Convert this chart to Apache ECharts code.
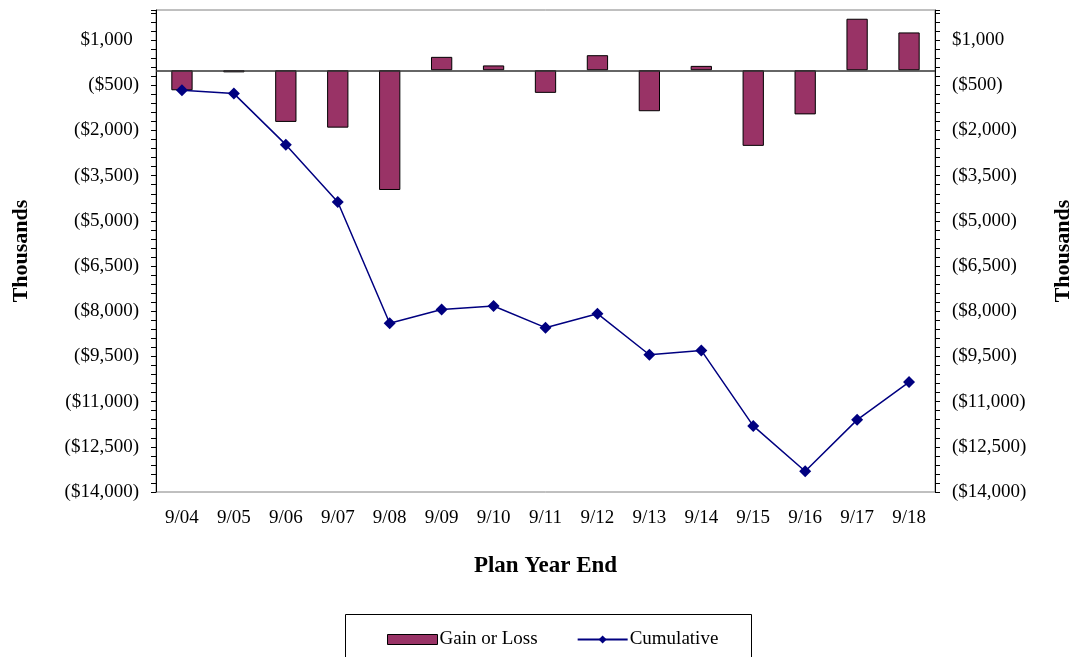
<!DOCTYPE html>
<html>
<head>
<meta charset="utf-8">
<script src="https://cdn.jsdelivr.net/npm/echarts@6/dist/echarts.min.js"></script>
<style>
html,body{margin:0;padding:0;background:#fff;}
#chart{width:1073px;height:657px;}
</style>
</head>
<body>
<div id="chart"></div>
<script>
var categories = ['9/04','9/05','9/06','9/07','9/08','9/09','9/10','9/11','9/12','9/13','9/14','9/15','9/16','9/17','9/18'];
var gainOrLoss = [-665, -70, -1715, -1905, -3975, 445, 160, -750, 500, -1360, 145, -2510, -1465, 1710, 1255];
var cumulative = [-665, -775, -2470, -4375, -8400, -7940, -7825, -8545, -8080, -9445, -9300, -11805, -13310, -11605, -10350];
var yMin = -14000, yMax = 2000, yStep = 1500;

var FONT = "'Liberation Serif', 'Times New Roman', serif";

function fmt(v) {
  var a = Math.abs(v).toLocaleString('en-US');
  if (v < 0) return '($' + a + ')';
  return '$' + a + '{h|)}';
}

var chart = echarts.init(document.getElementById('chart'), null, {renderer: 'canvas'});

function yAxisDef(pos, gap) {
  return {
    type: 'value',
    position: pos,
    min: yMin, max: yMax, interval: yStep,
    name: 'Thousands',
    nameLocation: 'middle',
    nameRotate: 90,
    nameGap: gap,
    nameTextStyle: {fontFamily: FONT, fontSize: 22, fontWeight: 'bold', color: '#000'},
    axisLine: {show: true, lineStyle: {color: '#000', width: 1}},
    axisTick: {show: true, length: 5, lineStyle: {color: '#000'}},
    minorTick: {show: true, splitNumber: 5, length: 5, lineStyle: {color: '#000'}},
    splitLine: {show: false},
    axisLabel: {
      fontFamily: FONT, fontSize: 19, color: '#000', margin: 17,
      showMaxLabel: false,
      formatter: fmt,
      rich: {h: {color: 'rgba(0,0,0,0)', fontFamily: FONT, fontSize: 19}}
    }
  };
}

var option = {
  backgroundColor: '#fff',
  animation: false,
  grid: {left: 156, top: 10, width: 779, height: 482, show: true, borderColor: '#808080', borderWidth: 1, backgroundColor: 'transparent', containLabel: false, outerBoundsMode: 'none'},
  xAxis: {
    type: 'category',
    data: categories,
    position: 'bottom',
    axisLine: {show: false, onZero: false},
    axisTick: {show: false},
    axisLabel: {fontFamily: FONT, fontSize: 19, color: '#000', margin: 17},
    name: 'Plan Year End',
    nameLocation: 'middle',
    nameGap: 63,
    nameTextStyle: {fontFamily: FONT, fontSize: 23, fontWeight: 'bold', color: '#000'}
  },
  yAxis: [yAxisDef('left', 124), yAxisDef('right', 117)],
  legend: {
    left: 382, top: 625,
    itemWidth: 50, itemHeight: 10, itemGap: 39,
    textStyle: {fontFamily: FONT, fontSize: 19, color: '#000', padding: [0,0,0,-3]},
    data: [
      {name: 'Gain or Loss', icon: 'rect', itemStyle: {color: '#993366', borderColor: '#000', borderWidth: 1}},
      {name: 'Cumulative'}
    ]
  },
  graphic: [{
    type: 'rect', silent: true,
    shape: {x: 345.5, y: 614.5, width: 406, height: 60},
    style: {fill: 'none', stroke: '#000', lineWidth: 1}
  }],
  series: [
    {
      name: 'Gain or Loss',
      type: 'bar',
      data: gainOrLoss,
      barWidth: '41%',
      itemStyle: {color: '#993366', borderColor: '#000', borderWidth: 1},
      markLine: {
        silent: true, symbol: 'none', label: {show: false},
        lineStyle: {color: '#333', width: 1.5, type: 'solid'},
        data: [{yAxis: 0}]
      },
      z: 2
    },
    {
      name: 'Cumulative',
      type: 'line',
      data: cumulative,
      symbol: 'diamond',
      symbolSize: 12,
      lineStyle: {color: '#000080', width: 1.5},
      itemStyle: {color: '#000080'},
      z: 3
    }
  ]
};
chart.setOption(option);
</script>
</body>
</html>
